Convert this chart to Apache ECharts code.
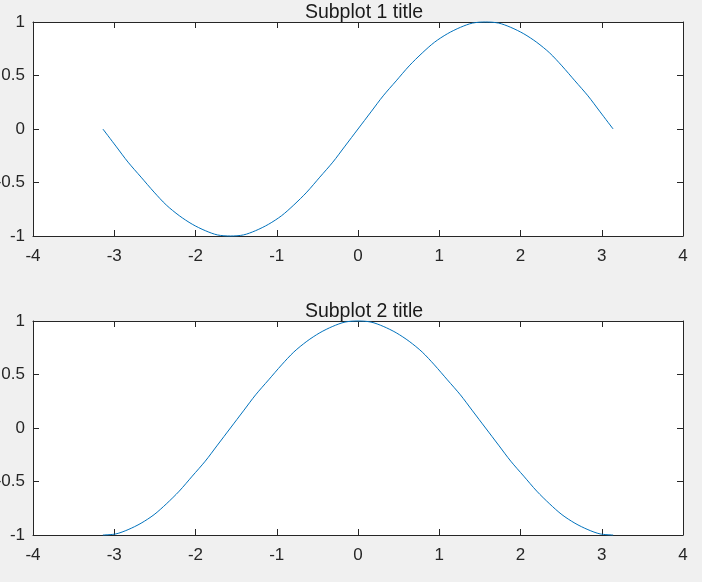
<!DOCTYPE html>
<html>
<head>
<meta charset="utf-8">
<script src="https://cdn.jsdelivr.net/npm/echarts@6/dist/echarts.min.js"></script>
<style>
  html, body { margin: 0; padding: 0; background: #f0f0f0; }
  #chart { width: 702px; height: 582px; }
</style>
</head>
<body>
<div id="chart"></div>
<script>
// x positions (-pi .. pi)
var xValues = [-3.14, -2.98, -2.83, -2.67, -2.51, -2.36, -2.20, -2.04, -1.88, -1.73, -1.57,
  -1.41, -1.26, -1.10, -0.94, -0.79, -0.63, -0.47, -0.31, -0.16, 0,
  0.16, 0.31, 0.47, 0.63, 0.79, 0.94, 1.10, 1.26, 1.41, 1.57,
  1.73, 1.88, 2.04, 2.20, 2.36, 2.51, 2.67, 2.83, 2.98, 3.14];
// subplot 1 curve
var topValues = [0, -0.16, -0.31, -0.45, -0.59, -0.71, -0.81, -0.89, -0.95, -0.99, -1,
  -0.99, -0.95, -0.89, -0.81, -0.71, -0.59, -0.45, -0.31, -0.16, 0,
  0.16, 0.31, 0.45, 0.59, 0.71, 0.81, 0.89, 0.95, 0.99, 1,
  0.99, 0.95, 0.89, 0.81, 0.71, 0.59, 0.45, 0.31, 0.16, 0];
// subplot 2 curve
var bottomValues = [-1, -0.99, -0.95, -0.89, -0.81, -0.71, -0.59, -0.45, -0.31, -0.16, 0,
  0.16, 0.31, 0.45, 0.59, 0.71, 0.81, 0.89, 0.95, 0.99, 1,
  0.99, 0.95, 0.89, 0.81, 0.71, 0.59, 0.45, 0.31, 0.16, 0,
  -0.16, -0.31, -0.45, -0.59, -0.71, -0.81, -0.89, -0.95, -0.99, -1];
var titles = ["Subplot 1 title", "Subplot 2 title"];
var yLabels = { "1": "1", "0.5": "0.5", "0": "0", "-0.5": "-0.5", "-1": "-1" };

var axisColor = "#262626";
var font = "Liberation Sans, Arial, sans-serif";
var gridTops = [22, 321];
var gridHeight = 214;

function pairs(ys) {
  return xValues.map(function(x, i) { return [x, ys[i]]; });
}

var grids = [], xAxes = [], yAxes = [], series = [], titleList = [];
gridTops.forEach(function(top, g) {
  grids.push({
    left: 33, right: 19, top: top, height: gridHeight,
    outerBoundsMode: "none", containLabel: false,
    show: true, backgroundColor: "#ffffff", borderWidth: 0
  });
  titleList.push({
    text: titles[g],
    left: 359,
    top: top - 24,
    textAlign: "center",
    textStyle: { fontFamily: font, fontSize: 19.5, fontWeight: "normal", color: "#1a1a1a" }
  });
  ["bottom", "top"].forEach(function(pos) {
    xAxes.push({
      type: "value", gridIndex: g, position: pos,
      min: -4, max: 4, interval: 1,
      axisLine: { show: true, onZero: false, lineStyle: { color: axisColor, width: 1 } },
      axisTick: { show: true, inside: true, length: 6, lineStyle: { color: axisColor } },
      axisLabel: {
        show: pos === "bottom", margin: 12, color: axisColor,
        fontFamily: font, fontSize: 17
      },
      splitLine: { show: false }
    });
  });
  ["left", "right"].forEach(function(pos) {
    yAxes.push({
      type: "value", gridIndex: g, position: pos,
      min: -1, max: 1, interval: 0.5,
      axisLine: { show: true, onZero: false, lineStyle: { color: axisColor, width: 1 } },
      axisTick: { show: true, inside: true, length: 6, lineStyle: { color: axisColor } },
      axisLabel: {
        show: pos === "left", margin: 8, color: axisColor,
        fontFamily: font, fontSize: 17,
        formatter: function(v) { return yLabels[String(v)]; }
      },
      splitLine: { show: false }
    });
  });
  series.push({
    type: "line",
    xAxisIndex: g * 2, yAxisIndex: g * 2,
    data: pairs(g === 0 ? topValues : bottomValues),
    showSymbol: false, smooth: 0.3, clip: false,
    lineStyle: { color: "#0072BD", width: 1 }
  });
});

var chart = echarts.init(document.getElementById("chart"));
chart.setOption({
  backgroundColor: "#f0f0f0",
  animation: false,
  title: titleList,
  grid: grids,
  xAxis: xAxes,
  yAxis: yAxes,
  series: series
});
</script>
</body>
</html>
